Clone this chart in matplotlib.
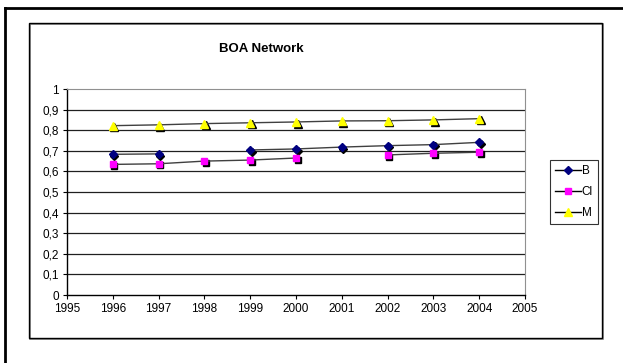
import numpy as np
import matplotlib
matplotlib.use('Agg')
import matplotlib.pyplot as plt
import matplotlib.transforms as mtransforms
from matplotlib.patches import Rectangle
from matplotlib.lines import Line2D
from matplotlib.ticker import FuncFormatter

plt.rcParams['font.family'] = ['Liberation Sans', 'DejaVu Sans']

years = [1996, 1997, 1998, 1999, 2000, 2001, 2002, 2003, 2004]
b_vals = [0.683, 0.685, np.nan, 0.704, 0.709, 0.718, 0.725, 0.730, 0.741]
cl_vals = [0.634, 0.637, 0.650, 0.655, 0.665, np.nan, 0.680, 0.688, 0.693]
m_vals = [0.822, 0.826, 0.832, 0.836, 0.840, 0.845, 0.846, 0.850, 0.856]

names = ['B', 'Cl', 'M']
series = [b_vals, cl_vals, m_vals]
colors = ['#000080', '#FF00FF', '#FFFF00']
markers = ['D', 's', '^']
msizes = [4.2, 5, 5.5]

fig = plt.figure(figsize=(6.23, 3.63), dpi=100)

# outer frame (top and left edges only)
fig.add_artist(Line2D([4.5/623, 1], [1-8/363, 1-8/363], color='black', lw=2, transform=fig.transFigure))
fig.add_artist(Line2D([4.5/623, 4.5/623], [0, 1-8/363], color='black', lw=2, transform=fig.transFigure))

# chart area box with a light shadow
fig.add_artist(Rectangle((30/623, 1-339/363), 573/623, 315/363, fill=False,
                         edgecolor='#808080', lw=1.2, transform=fig.transFigure))
fig.add_artist(Rectangle((29/623, 1-338/363), 573/623, 315/363, fill=False,
                         edgecolor='black', lw=1, transform=fig.transFigure))

ax = fig.add_axes([67/623, 1-295/363, (525-67)/623, (295-89)/363])

for vals, c, mk, ms, name in zip(series, colors, markers, msizes, names):
    shadow = mtransforms.offset_copy(ax.transData, fig=fig, x=1.2, y=-1.2, units='points')
    ax.plot(years, vals, linestyle='none', marker=mk, markersize=ms,
            color='black', transform=shadow, zorder=3)
    ax.plot(years, vals, color='#404040', lw=1, marker=mk, markersize=ms,
            markerfacecolor=c, markeredgecolor=c, zorder=4, label=name)

ax.set_xlim(1995, 2005)
ax.set_ylim(0, 1)
ax.set_xticks(range(1995, 2006))
ax.set_yticks(np.arange(0, 1.01, 0.1))
ax.yaxis.set_major_formatter(FuncFormatter(lambda v, p: ('%g' % round(v, 1)).replace('.', ',')))
ax.tick_params(direction='out', length=3, width=0.8, labelsize=8.5, colors='black', pad=3)

for y in np.arange(0.1, 0.95, 0.1):
    ax.axhline(y, color='#202020', lw=0.9, zorder=1)
ax.spines['top'].set_color('#909090')
ax.spines['right'].set_color('#909090')
ax.spines['left'].set_linewidth(1)
ax.spines['bottom'].set_linewidth(1)

fig.text(261/623, 1-49/363, 'BOA Network', ha='center', va='center', fontsize=9.5, fontweight='bold')

leg = ax.legend(loc='center left', bbox_to_anchor=(550/623, 1-192/363),
                bbox_transform=fig.transFigure, fontsize=8.5, frameon=True, fancybox=False,
                handlelength=2.2, handletextpad=0.1, borderpad=0.4, labelspacing=0.75,
                borderaxespad=0)
leg.get_frame().set_edgecolor('black')
leg.get_frame().set_linewidth(0.8)
for h in leg.get_lines():
    h.set_color('black')

fig.savefig('out.png', dpi=100)
